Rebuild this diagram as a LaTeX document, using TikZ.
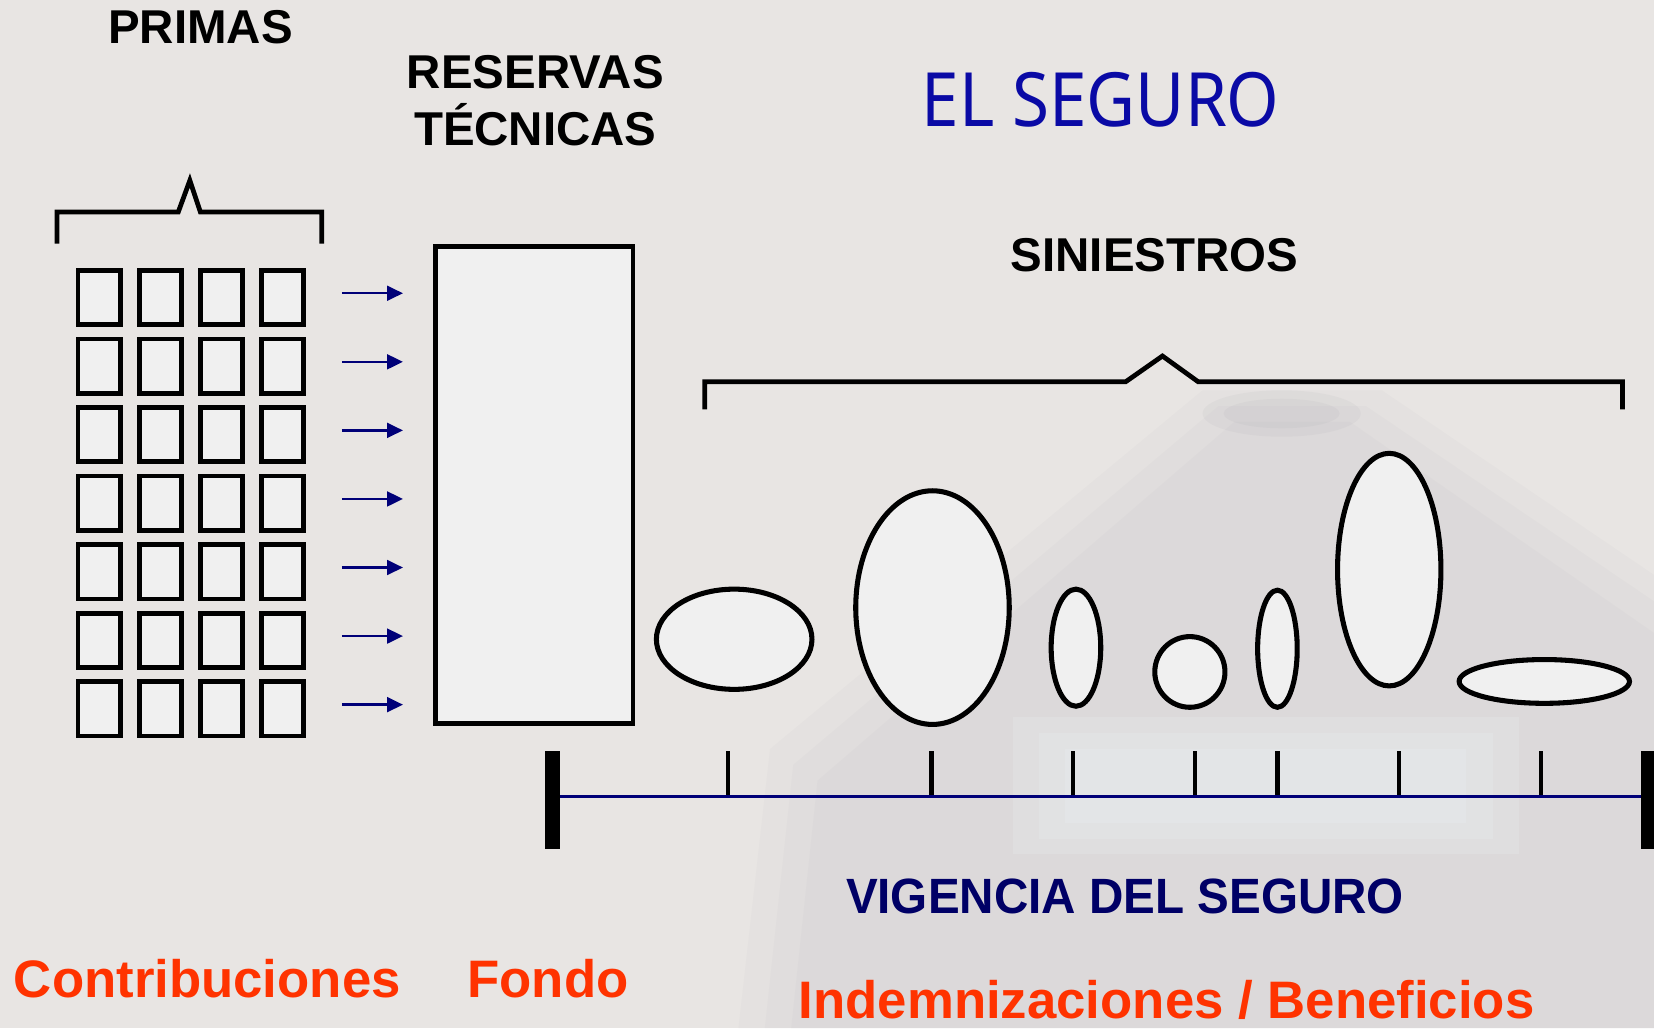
\documentclass[tikz,border=0pt]{standalone}
\usepackage{fontspec}
\setmainfont{Liberation Sans}
\newfontfamily\titlefont{Noto Sans}
\usetikzlibrary{shapes.geometric,arrows.meta}
\definecolor{bg}{RGB}{232,229,227}
\definecolor{fillgray}{RGB}{240,240,240}
\definecolor{navyline}{RGB}{0,0,120}
\definecolor{navytext}{RGB}{0,0,102}
\definecolor{titleblue}{RGB}{10,10,165}
\definecolor{redtext}{RGB}{255,51,0}
\definecolor{wmgray}{RGB}{150,150,158}
\definecolor{wmlight}{RGB}{236,242,247}
\begin{document}
\begin{tikzpicture}[x=1pt,y=-1pt,
  cell/.style={draw, line width=4.5pt, fill=fillgray, minimum width=40pt, minimum height=51.5pt, inner sep=0pt},
  flow/.style={-{Triangle[length=15pt,width=14pt]}, line width=2.2pt, draw=navyline},
  blob/.style={draw, ellipse, line width=4.8pt, fill=fillgray, inner sep=0pt},
  bracketline/.style={line width=4.5pt, line join=miter, line cap=butt},
  heading/.style={font=\bfseries\fontsize{45}{54}\selectfont, anchor=base, inner sep=0pt},
  redlabel/.style={font=\bfseries\fontsize{50}{55}\selectfont, anchor=base west, inner sep=0pt, text=redtext},
  tickline/.style={line width=4pt},
  endbar/.style={line width=14pt},
  wm/.style={fill=wmgray, opacity=0.045},
  wmbright/.style={fill=wmlight, opacity=0.2}
]
\useasboundingbox (0,0) rectangle (1568,975);
\clip (0,0) rectangle (1568,975);
\fill[bg] (0,0) rectangle (1568,975);
% faint watermark, soft-edged by layering
\fill[wm] (1140,370) -- (1310,370) -- (1568,545) -- (1568,975) -- (700,975) -- (730,710) -- cycle;
\fill[wm] (1155,385) -- (1295,385) -- (1568,570) -- (1568,975) -- (725,975) -- (752,725) -- cycle;
\fill[wm] (1170,400) -- (1280,400) -- (1568,600) -- (1568,975) -- (750,975) -- (775,740) -- cycle;
\fill[wmgray, opacity=0.08] (1215,392) ellipse (75pt and 22pt);
\fill[wmgray, opacity=0.08] (1215,392) ellipse (55pt and 14pt);
\fill[wmbright] (960,680) rectangle (1440,810);
\fill[wmbright] (985,695) rectangle (1415,795);
\fill[wmbright] (1010,710) rectangle (1390,780);

% headings
\node[heading] (primas) at (190,41) {PRIMAS};
\node[heading] (res1) at (507.5,84) {RESERVAS};
\node[heading] (res2) at (507.5,138) {TÉCNICAS};
\node[heading] (sin) at (1094.5,257) {SINIESTROS};
\node[anchor=base, inner sep=0pt, text=titleblue, font=\titlefont\fontsize{71}{80}\selectfont] (title) at (1043.5,119.6) {\scalebox{0.9}[1]{EL SEGURO}};

% PRIMAS bracket
\draw[bracketline] (54,231) -- (54,201) -- (169,201) -- (180,171) -- (190,201) -- (305,201) -- (305,231);
% SINIESTROS bracket
\draw[bracketline] (668,388) -- (668,362) -- (1067,362) -- (1102,337.5) -- (1136,362) -- (1538,362) -- (1538,388);

% grid of premiums
\foreach \c in {0,...,3}
  \foreach \r in {0,...,6}
    \node[cell] (b\c\r) at ({94+58*\c},{282+65*\r}) {};

% arrows
\foreach \r in {0,...,6} {
  \coordinate (s\r) at (324,{278+65*\r});
  \coordinate (t\r) at (382,{278+65*\r});
  \draw[flow] (s\r) -- (t\r);
}

% fund
\node[draw, line width=4.5pt, fill=fillgray, minimum width=187pt, minimum height=452pt, inner sep=0pt] (fondo) at (506.5,460) {};

% claims
\node[blob, minimum width=147.5pt, minimum height=95pt] (e1) at (696,606) {};
\node[blob, minimum width=145.5pt, minimum height=221.5pt] (e2) at (884,576) {};
\node[blob, minimum width=47pt, minimum height=111pt] (e3) at (1020,614) {};
\node[blob, minimum width=66.5pt, minimum height=67pt] (e4) at (1128,637) {};
\node[blob, minimum width=37.5pt, minimum height=111pt] (e5) at (1211,615) {};
\node[blob, minimum width=98pt, minimum height=220.5pt] (e6) at (1317,540) {};
\node[blob, minimum width=161.5pt, minimum height=41.5pt] (e7) at (1464,646) {};

% timeline
\coordinate (tl0) at (524,755);
\coordinate (tl1) at (1563,755);
\foreach \x in {690,883,1017,1133,1211,1326,1461}
  \draw[tickline] (\x,712) -- (\x,755);
\draw[draw=navyline, line width=3pt] (tl0) -- (tl1);
\draw[endbar] (524,712) -- (524,805);
\draw[endbar] (1563,712) -- (1563,805);

\node[anchor=base, inner sep=0pt, text=navytext, font=\bfseries\fontsize{47}{50}\selectfont] (vig) at (1066.5,866) {\scalebox{0.96}[1]{VIGENCIA DEL SEGURO}};

% bottom labels
\node[redlabel] (contrib) at (13,946) {Contribuciones};
\node[redlabel] (fondolbl) at (443,946) {Fondo};
\node[redlabel] (indem) at (757,966) {Indemnizaciones / Beneficios};
\end{tikzpicture}
\end{document}
